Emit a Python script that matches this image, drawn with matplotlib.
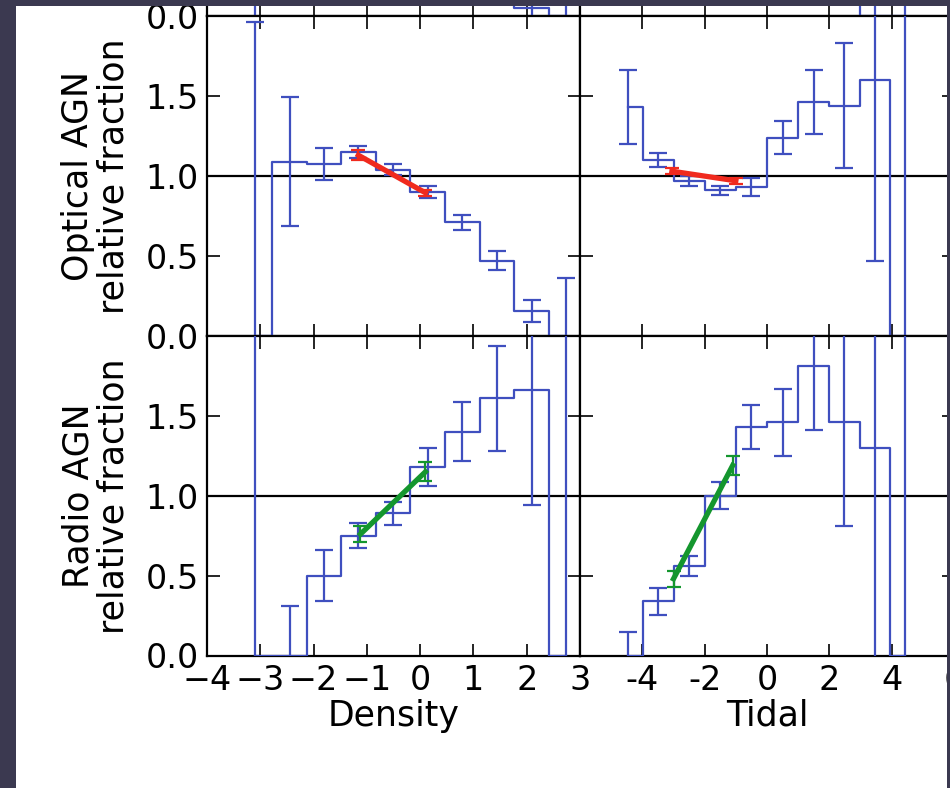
import matplotlib

matplotlib.use('Agg')

import matplotlib.pyplot as plt
from matplotlib.patches import Rectangle

plt.rcParams.update({
    'font.family': 'DejaVu Sans',
    'font.size': 24,
    'axes.linewidth': 1.6,
})

# bin centres
dens_x = [-3.10, -2.45, -1.80, -1.16, -0.51, 0.14, 0.79, 1.44, 2.09, 2.74]
tidal_x = [-4.47, -3.49, -2.50, -1.50, -0.50, 0.50, 1.50, 2.48, 3.46, 4.44]

# row that is cut off at the top of the screenshot
top_dens_y = [1.0, 1.0, 1.0, 1.0, 1.0, 1.0, 1.0, 0.8, 0.05, 0.0]
top_dens_err = [1.5, 0.4, 0.1, 0.05, 0.05, 0.05, 0.1, 0.3, 0.2, 3.0]
top_tidal_y = [1.2, 1.0, 1.0, 1.0, 1.0, 1.2, 1.3, 1.3, 0.0, 0.0]
top_tidal_err = [0.3, 0.05, 0.05, 0.05, 0.05, 0.1, 0.2, 0.4, 3.0, 3.0]

# optical AGN
opt_dens_y = [0.0, 1.09, 1.075, 1.15, 1.04, 0.90, 0.71, 0.47, 0.155, 0.0]
opt_dens_err = [1.96, 0.405, 0.10, 0.04, 0.035, 0.035, 0.045, 0.06, 0.07, 0.36]
opt_tidal_y = [1.43, 1.10, 0.97, 0.91, 0.93, 1.24, 1.46, 1.44, 1.60, 0.0]
opt_tidal_err = [0.23, 0.045, 0.03, 0.03, 0.055, 0.105, 0.20, 0.39, 1.13, 3.0]

# radio AGN
rad_dens_y = [0.0, 0.0, 0.50, 0.75, 0.89, 1.18, 1.40, 1.61, 1.66, 0.0]
rad_dens_err = [3.0, 0.31, 0.16, 0.08, 0.07, 0.12, 0.185, 0.33, 0.72, 3.0]
rad_tidal_y = [0.0, 0.34, 0.56, 1.0, 1.43, 1.46, 1.81, 1.46, 1.30, 0.0]
rad_tidal_err = [0.15, 0.085, 0.065, 0.085, 0.135, 0.21, 0.40, 0.65, 1.5, 3.0]

# fitted slopes
opt_dens_fit_x, opt_dens_fit_y, opt_dens_fit_err = [-1.16, 0.10], [1.13, 0.895], [0.03, 0.02]
opt_tidal_fit_x, opt_tidal_fit_y, opt_tidal_fit_err = [-3.05, -1.0], [1.03, 0.97], [0.02, 0.02]
rad_dens_fit_x, rad_dens_fit_y, rad_dens_fit_err = [-1.12, 0.10], [0.76, 1.15], [0.05, 0.06]
rad_tidal_fit_x, rad_tidal_fit_y, rad_tidal_fit_err = [-3.0, -1.1], [0.48, 1.19], [0.05, 0.06]

BLUE = '#3f4fbf'
RED = '#f02a1e'
GREEN = '#14962e'

W, H = 950, 788
fig = plt.figure(figsize=(W / 100, H / 100), dpi=100)
fig.patch.set_facecolor('white')

x_left = {'dens': (207, 373), 'tidal': (580, 374)}
rows = {'top': (-304, 16), 'opt': (16, 336), 'rad': (336, 655.5)}


def make_ax(col, row):
    x0, w = x_left[col]
    y0, y1 = rows[row]
    return fig.add_axes([x0 / W, (H - y1) / H, w / W, (y1 - y0) / H])


def panel(ax, x, y, err, fit=None, fitcol=None, hline=True):
    ax.errorbar(x, y, yerr=err, drawstyle='steps-mid', color=BLUE, lw=1.6,
                elinewidth=1.6, capsize=6.5, capthick=1.6, zorder=3)
    if fit is not None:
        fx, fy, fe = fit
        ax.errorbar(fx, fy, yerr=fe, color=fitcol, lw=3.8, elinewidth=1.6,
                    capsize=5, capthick=1.6, zorder=4)
    if hline:
        ax.axhline(1.0, color='black', lw=1.6, zorder=2)
    ax.set_ylim(0, 2)
    ax.set_yticks([0, 0.5, 1.0, 1.5])
    ax.tick_params(direction='in', length=9, width=1.2, top=True, right=True,
                   labelsize=24)
    ax.tick_params(axis='y', pad=6)
    ax.tick_params(axis='x', pad=6)


data = {
    ('dens', 'top'): (top_dens_y, top_dens_err, None, None),
    ('tidal', 'top'): (top_tidal_y, top_tidal_err, None, None),
    ('dens', 'opt'): (opt_dens_y, opt_dens_err,
                      (opt_dens_fit_x, opt_dens_fit_y, opt_dens_fit_err), RED),
    ('tidal', 'opt'): (opt_tidal_y, opt_tidal_err,
                       (opt_tidal_fit_x, opt_tidal_fit_y, opt_tidal_fit_err), RED),
    ('dens', 'rad'): (rad_dens_y, rad_dens_err,
                      (rad_dens_fit_x, rad_dens_fit_y, rad_dens_fit_err), GREEN),
    ('tidal', 'rad'): (rad_tidal_y, rad_tidal_err,
                       (rad_tidal_fit_x, rad_tidal_fit_y, rad_tidal_fit_err), GREEN),
}

for (col, row), (yv, ev, fit, fc) in data.items():
    ax = make_ax(col, row)
    xs = dens_x if col == 'dens' else tidal_x
    panel(ax, xs, yv, ev, fit, fc, hline=(row != 'top'))
    if col == 'dens':
        ax.set_xlim(-4, 3)
        ax.set_xticks(range(-4, 4))
    else:
        ax.set_xlim(-6, 6)
        ax.set_xticks([-4, -2, 0, 2, 4, 6], labels=['-4', '-2', '0', '2', '4', '6'])
        ax.tick_params(labelleft=False)
    if row == 'top':
        # only the bottom label of the cropped row is on screen
        ax.set_yticks([0, 0.5, 1.0, 1.5], labels=['0.0', '', '', ''])
    if row != 'rad':
        ax.tick_params(labelbottom=False)
    else:
        ax.set_xlabel('Density' if col == 'dens' else 'Tidal', fontsize=25)
        ax.xaxis.set_label_coords(0.5, -0.135)
    if col == 'dens' and row == 'opt':
        ax.set_ylabel('Optical AGN\nrelative fraction', fontsize=25, linespacing=1.05)
        ax.yaxis.set_label_coords(-0.205, 0.5)
    if col == 'dens' and row == 'rad':
        ax.set_ylabel('Radio AGN\nrelative fraction', fontsize=25, linespacing=1.05)
        ax.yaxis.set_label_coords(-0.205, 0.5)

# dark slide border around the screenshot
border = '#3b3950'
for x0, y0, w, h in [(0, 0, 16, H), (0, 0, W, 6), (947, 0, 3, H)]:
    fig.add_artist(Rectangle((x0 / W, 1 - (y0 + h) / H), w / W, h / H,
                             transform=fig.transFigure, facecolor=border,
                             edgecolor='none', zorder=10))

fig.savefig('out.png', dpi=100)
